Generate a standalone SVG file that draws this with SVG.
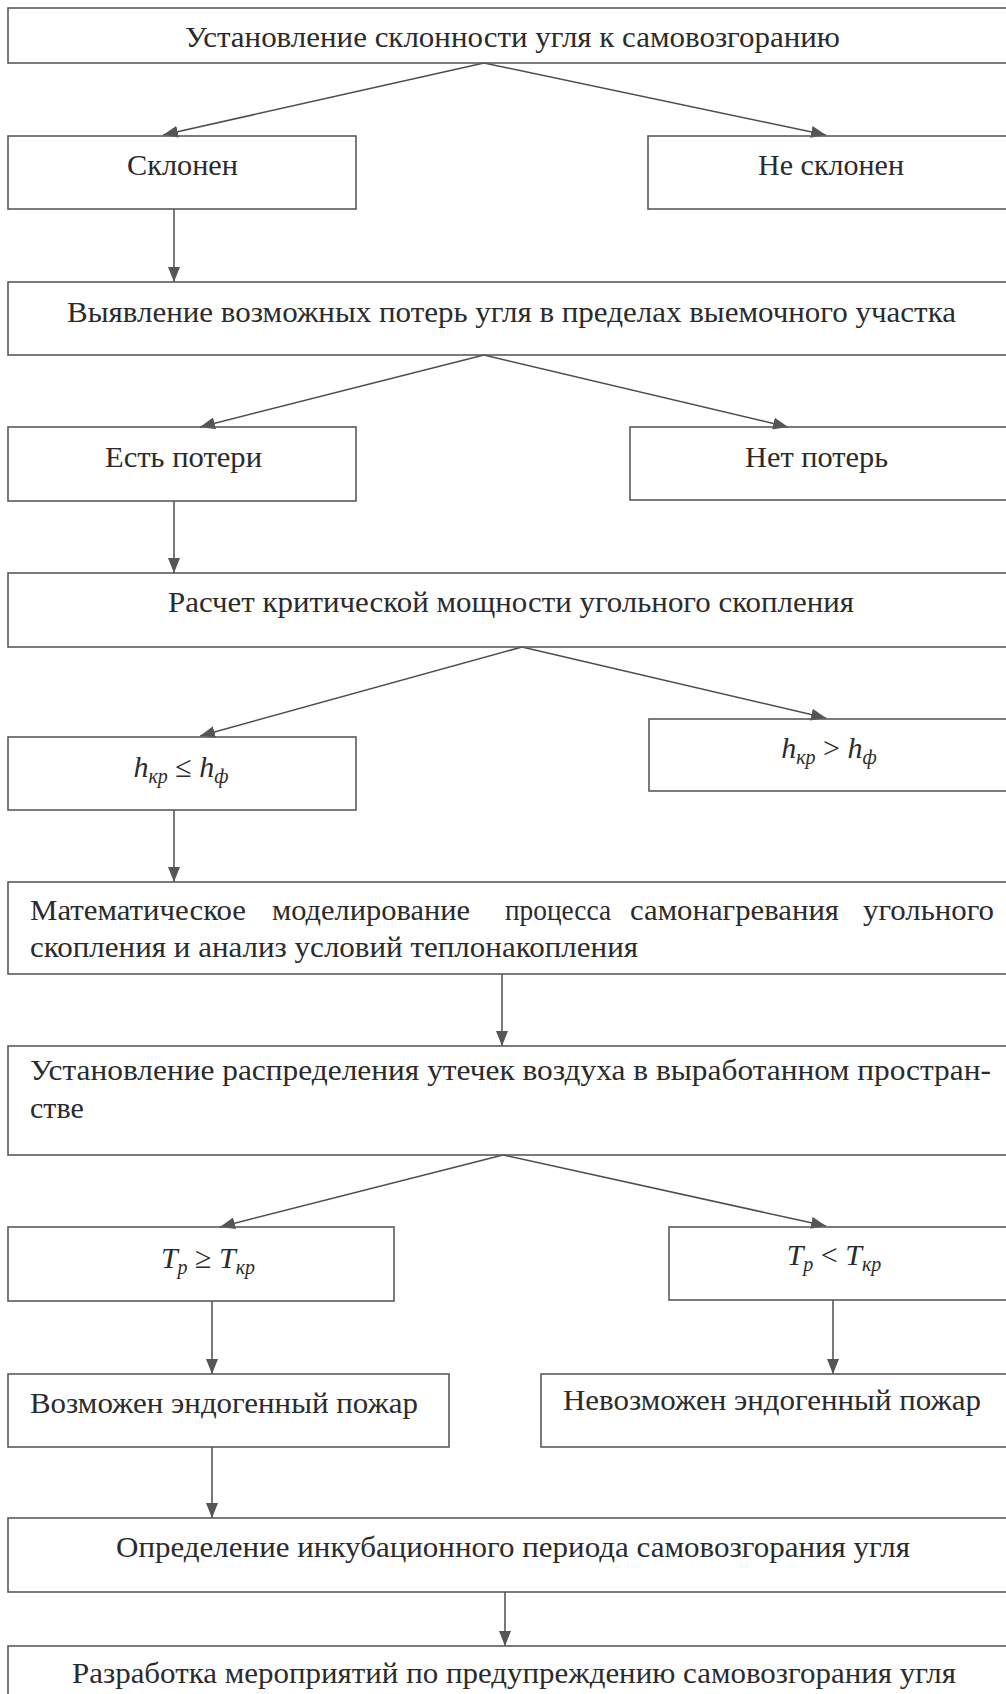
<svg xmlns="http://www.w3.org/2000/svg" width="1006" height="1694" viewBox="0 0 1006 1694">
<style>
.box{fill:none;stroke:#5a5a5a;stroke-width:1.6}
.t{font-family:"Liberation Serif","Times New Roman",serif;font-size:30px;fill:#2b2b2b}
.f{font-family:"Liberation Serif","Times New Roman",serif;font-size:30px;fill:#2b2b2b;font-style:italic}
.sub{font-size:20px}
.op{font-style:normal}
.c{fill:none;stroke:#4d4d4d;stroke-width:1.5}
</style>
<defs>
<marker id="ah" markerUnits="userSpaceOnUse" markerWidth="16" markerHeight="12" refX="15" refY="6" orient="auto">
<path d="M0,0 L15,6 L0,12 Z" fill="#555"/>
</marker>
</defs>
<rect width="1006" height="1694" fill="#fff"/>
<g id="connectors">
<line class="c" x1="484" y1="63" x2="163" y2="135" marker-end="url(#ah)"/>
<line class="c" x1="484" y1="63" x2="826" y2="135" marker-end="url(#ah)"/>
<line class="c" x1="174" y1="209" x2="174" y2="282" marker-end="url(#ah)"/>
<line class="c" x1="484" y1="355" x2="200" y2="427" marker-end="url(#ah)"/>
<line class="c" x1="484" y1="355" x2="788" y2="427" marker-end="url(#ah)"/>
<line class="c" x1="174" y1="501" x2="174" y2="573" marker-end="url(#ah)"/>
<line class="c" x1="522" y1="647" x2="200" y2="736" marker-end="url(#ah)"/>
<line class="c" x1="522" y1="647" x2="826" y2="718" marker-end="url(#ah)"/>
<line class="c" x1="174" y1="810" x2="174" y2="882" marker-end="url(#ah)"/>
<line class="c" x1="502" y1="974" x2="502" y2="1046" marker-end="url(#ah)"/>
<line class="c" x1="503" y1="1155" x2="220" y2="1227" marker-end="url(#ah)"/>
<line class="c" x1="503" y1="1155" x2="826" y2="1226" marker-end="url(#ah)"/>
<line class="c" x1="212" y1="1301" x2="212" y2="1374" marker-end="url(#ah)"/>
<line class="c" x1="833" y1="1300" x2="833" y2="1374" marker-end="url(#ah)"/>
<line class="c" x1="212" y1="1447" x2="212" y2="1518" marker-end="url(#ah)"/>
<line class="c" x1="505" y1="1592" x2="505" y2="1646" marker-end="url(#ah)"/>
</g>
<g id="n1"><rect class="box" x="8" y="8" width="1010" height="55"/><text class="t" x="185" y="47" textLength="655" lengthAdjust="spacingAndGlyphs">Установление склонности угля к самовозгоранию</text></g>
<g id="n2"><rect class="box" x="8" y="136" width="348" height="73"/><text class="t" x="127" y="175" textLength="111" lengthAdjust="spacingAndGlyphs">Склонен</text></g>
<g id="n3"><rect class="box" x="648" y="136" width="370" height="73"/><text class="t" x="758" y="175" textLength="146" lengthAdjust="spacingAndGlyphs">Не склонен</text></g>
<g id="n4"><rect class="box" x="8" y="282" width="1010" height="73"/><text class="t" x="67" y="322" textLength="889" lengthAdjust="spacingAndGlyphs">Выявление возможных потерь угля в пределах выемочного участка</text></g>
<g id="n5"><rect class="box" x="8" y="427" width="348" height="74"/><text class="t" x="105" y="467" textLength="157" lengthAdjust="spacingAndGlyphs">Есть потери</text></g>
<g id="n6"><rect class="box" x="630" y="427" width="388" height="73"/><text class="t" x="745" y="467" textLength="143" lengthAdjust="spacingAndGlyphs">Нет потерь</text></g>
<g id="n7"><rect class="box" x="8" y="573" width="1010" height="74"/><text class="t" x="168" y="612" textLength="686" lengthAdjust="spacingAndGlyphs">Расчет критической мощности угольного скопления</text></g>
<g id="n8"><rect class="box" x="8" y="737" width="348" height="73"/><text class="f" x="181" y="777" text-anchor="middle">h<tspan class="sub" dy="6">кр</tspan><tspan class="op" dy="-6"> ≤ </tspan>h<tspan class="sub" dy="6">ф</tspan></text></g>
<g id="n9"><rect class="box" x="649" y="719" width="369" height="72"/><text class="f" x="829" y="758" text-anchor="middle">h<tspan class="sub" dy="6">кр</tspan><tspan class="op" dy="-6"> &gt; </tspan>h<tspan class="sub" dy="6">ф</tspan></text></g>
<g id="n10"><rect class="box" x="8" y="882" width="1010" height="92"/>
<text class="t" x="30" y="920" textLength="216" lengthAdjust="spacingAndGlyphs">Математическое</text>
<text class="t" x="272" y="920" textLength="198" lengthAdjust="spacingAndGlyphs">моделирование</text>
<text class="t" x="505" y="920" textLength="106" lengthAdjust="spacingAndGlyphs">процесса</text>
<text class="t" x="630" y="920" textLength="209" lengthAdjust="spacingAndGlyphs">самонагревания</text>
<text class="t" x="863" y="920" textLength="131" lengthAdjust="spacingAndGlyphs">угольного</text>
<text class="t" x="30" y="957" textLength="608" lengthAdjust="spacingAndGlyphs">скопления и анализ условий теплонакопления</text></g>
<g id="n11"><rect class="box" x="8" y="1046" width="1010" height="109"/>
<text class="t" x="30" y="1080" textLength="961" lengthAdjust="spacingAndGlyphs">Установление распределения утечек воздуха в выработанном простран-</text>
<text class="t" x="30" y="1118">стве</text></g>
<g id="n12"><rect class="box" x="8" y="1227" width="386" height="74"/><text class="f" x="208" y="1268" text-anchor="middle">T<tspan class="sub" dy="6">p</tspan><tspan class="op" dy="-6"> ≥ </tspan>T<tspan class="sub" dy="6">кр</tspan></text></g>
<g id="n13"><rect class="box" x="669" y="1227" width="349" height="73"/><text class="f" x="834" y="1265" text-anchor="middle">T<tspan class="sub" dy="6">p</tspan><tspan class="op" dy="-6"> &lt; </tspan>T<tspan class="sub" dy="6">кр</tspan></text></g>
<g id="n14"><rect class="box" x="8" y="1374" width="441" height="73"/><text class="t" x="30" y="1413" textLength="388" lengthAdjust="spacingAndGlyphs">Возможен эндогенный пожар</text></g>
<g id="n15"><rect class="box" x="541" y="1374" width="477" height="73"/><text class="t" x="563" y="1410" textLength="418" lengthAdjust="spacingAndGlyphs">Невозможен эндогенный пожар</text></g>
<g id="n16"><rect class="box" x="8" y="1518" width="1010" height="74"/><text class="t" x="116" y="1557" textLength="794" lengthAdjust="spacingAndGlyphs">Определение инкубационного периода самовозгорания угля</text></g>
<g id="n17"><rect class="box" x="8" y="1646" width="1010" height="80"/><text class="t" x="72" y="1683" textLength="884" lengthAdjust="spacingAndGlyphs">Разработка мероприятий по предупреждению самовозгорания угля</text></g>
</svg>
